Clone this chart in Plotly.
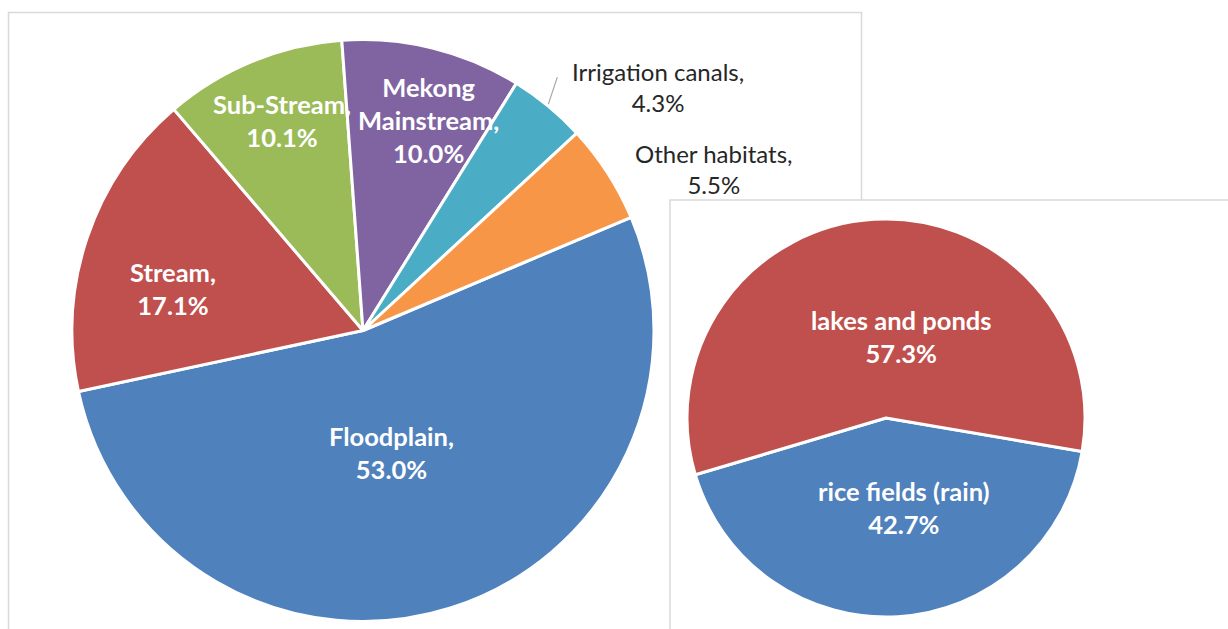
import math
import plotly.graph_objects as go

# Habitat shares, large pie (percent)
habitats = ["Floodplain", "Stream", "Sub-Stream", "Mekong<br>Mainstream",
            "Irrigation canals", "Other habitats"]
habitat_pct = [53.0, 17.1, 10.1, 10.0, 4.3, 5.5]
habitat_colors = ["#4F81BD", "#C0504D", "#9BBB59", "#8064A2", "#4BACC6", "#F79646"]

# Breakdown of "Other habitats", small pie (percent)
other_types = ["rice fields (rain)", "lakes and ponds"]
other_pct = [42.7, 57.3]
other_colors = ["#4F81BD", "#C0504D"]

W, H = 1228, 629
FONT = "Lato, Carlito, Calibri, sans-serif"
FS_IN = 25.5   # white bold labels inside slices
FS_OUT = 24    # dark labels outside the pie

# pie geometry in pixels
BIG_C, BIG_R, BIG_ROT = (363.0, 330.5), 291.0, 67.1
SMALL_C, SMALL_R, SMALL_ROT = (886.0, 418.0), 199.0, 99.7


def px(x):
    return x / W


def py(y):
    return 1 - y / H


def domain(c, r):
    return dict(x=[px(c[0] - r), px(c[0] + r)], y=[py(c[1] + r), py(c[1] - r)])


def mid_angles(values, rot):
    total = sum(values)
    out, acc = [], rot
    for v in values:
        out.append(acc + 360 * v / total / 2)
        acc += 360 * v / total
    return out


def polar(c, r, ang):
    a = math.radians(ang)
    return c[0] + r * math.sin(a), c[1] - r * math.cos(a)


fig = go.Figure()
fig.add_trace(go.Pie(
    labels=habitats, values=habitat_pct, sort=False, direction="clockwise",
    rotation=BIG_ROT, domain=domain(BIG_C, BIG_R), textinfo="none",
    marker=dict(colors=habitat_colors, line=dict(color="white", width=3)),
    showlegend=False, hoverinfo="label+percent",
))
fig.add_trace(go.Pie(
    labels=other_types, values=other_pct, sort=False, direction="clockwise",
    rotation=SMALL_ROT, domain=domain(SMALL_C, SMALL_R), textinfo="none",
    marker=dict(colors=other_colors, line=dict(color="white", width=3)),
    showlegend=False, hoverinfo="label+percent",
))

annotations = []
shapes = [
    dict(type="rect", xref="paper", yref="paper", layer="below",
         x0=px(8.5), x1=px(861.5), y0=py(660), y1=py(12.5),
         line=dict(color="#D9D9D9", width=1.5), fillcolor="white"),
    dict(type="rect", xref="paper", yref="paper", layer="below",
         x0=px(670), x1=px(1260), y0=py(660), y1=py(200),
         line=dict(color="#D9D9D9", width=1.5), fillcolor="white"),
]

# label placement: (radius fraction, dx, dy, inside)
big_place = [(0.44, -10, 0, True), (0.69, 0, 22, True), (0.78, 5, 0, True),
             (0.745, 14, 0, True), (1.0, 110, -19, False), (1.0, 106, -4, False)]
for name, v, ang, (f, dx, dy, inside) in zip(habitats, habitat_pct,
                                             mid_angles(habitat_pct, BIG_ROT), big_place):
    x, y = polar(BIG_C, BIG_R * f, ang)
    if inside:
        txt = f"<b>{name},<br>{v:.1f}%</b>"
        font = dict(family=FONT, size=FS_IN, color="white")
    else:
        txt = f"{name},<br>{v:.1f}%"
        font = dict(family=FONT, size=FS_OUT, color="#262626")
    annotations.append(dict(x=px(x + dx), y=py(y + dy), xref="paper", yref="paper",
                            text=txt, showarrow=False, xanchor="center", yanchor="middle",
                            font=font))

# leader line for the narrow irrigation slice
irr_ang = mid_angles(habitat_pct, BIG_ROT)[4]
ex, ey = polar(BIG_C, BIG_R, irr_ang)
shapes.append(dict(type="line", xref="paper", yref="paper",
                   x0=px(ex), y0=py(ey - 2), x1=px(ex + 9), y1=py(ey - 29),
                   line=dict(color="#A6A6A6", width=1.2)))

small_place = [(0.45, 13, 0), (0.41, 20, 0)]
for name, v, ang, (f, dx, dy) in zip(other_types, other_pct,
                                     mid_angles(other_pct, SMALL_ROT), small_place):
    x, y = polar(SMALL_C, SMALL_R * f, ang)
    annotations.append(dict(x=px(x + dx), y=py(y + dy), xref="paper", yref="paper",
                            text=f"<b>{name}<br>{v:.1f}%</b>", showarrow=False,
                            xanchor="center", yanchor="middle",
                            font=dict(family=FONT, size=FS_IN, color="white")))

fig.update_layout(
    width=W, height=H, margin=dict(l=0, r=0, t=0, b=0),
    paper_bgcolor="white", plot_bgcolor="white",
    shapes=shapes, annotations=annotations,
)

fig.write_html("out.html")
